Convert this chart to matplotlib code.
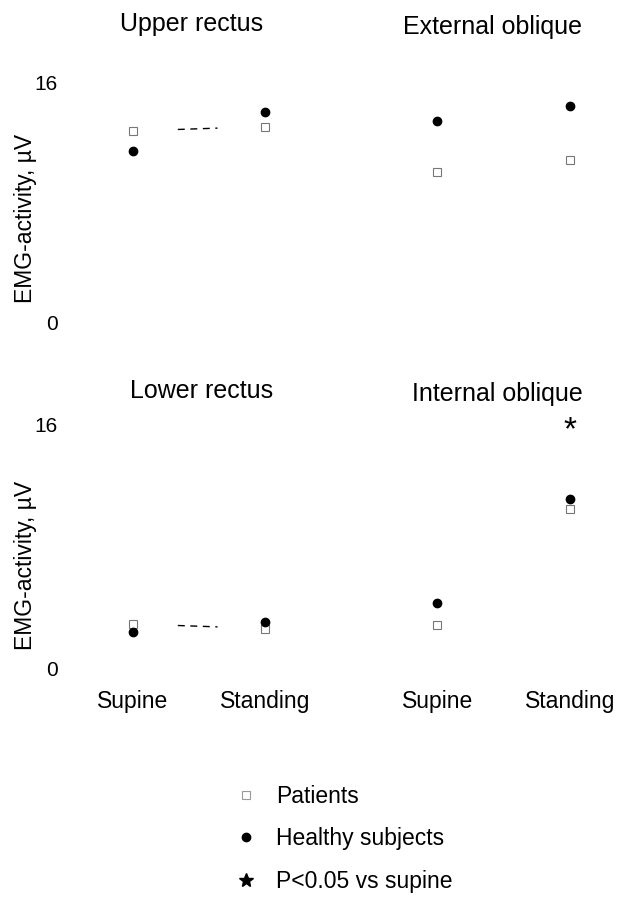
import numpy as np
import matplotlib.pyplot as plt
from matplotlib.lines import Line2D

plt.rcParams["font.family"] = ["Liberation Sans", "DejaVu Sans"]

# EMG activity (µV), supine vs standing
positions = ["Supine", "Standing"]
muscles = ["Upper rectus", "External oblique", "Lower rectus", "Internal oblique"]

patients = {
    "Upper rectus": [12.8, 13.1],
    "External oblique": [10.1, 10.9],
    "Lower rectus": [2.9, 2.6],
    "Internal oblique": [2.8, 10.5],
}
healthy = {
    "Upper rectus": [11.5, 14.1],
    "External oblique": [13.5, 14.5],
    "Lower rectus": [2.4, 3.0],
    "Internal oblique": [4.3, 11.1],
}
# significance marker (P<0.05 vs supine)
signif = {"Internal oblique": (1, 15.6)}
# panels where a piece of the patient connecting line remains
dashed_link = ["Upper rectus", "Lower rectus"]

fig = plt.figure(figsize=(6.28, 9.02), dpi=100)
H = 902.0
W = 628.0

# axes boxes in pixels: left, top(of 16), right, bottom(of 0)
boxes = {
    "Upper rectus": (80, 83, 318, 323),
    "External oblique": (384, 83, 623, 323),
    "Lower rectus": (80, 425, 318, 668),
    "Internal oblique": (384, 425, 623, 668),
}
titles_xy = {
    "Upper rectus": (192, 24),
    "External oblique": (492, 27),
    "Lower rectus": (202, 391),
    "Internal oblique": (497, 394),
}

x = np.arange(len(positions))
for m in muscles:
    l, t, r, b = boxes[m]
    ax = fig.add_axes([l / W, (H - b) / H, (r - l) / W, (b - t) / H])
    ax.set_xlim(-0.4, 1.4)
    ax.set_ylim(0, 16)
    for s in ax.spines.values():
        s.set_visible(False)
    ax.tick_params(length=0, labelsize=15)
    ax.set_yticks([0, 16])
    if l < 200:
        ax.set_yticklabels(["0", "16"])
        ax.tick_params(axis="y", pad=16)
    else:
        ax.set_yticklabels([])
    if b > 600:
        ax.set_xticks(x)
        ax.set_xticklabels(positions, fontsize=16.5)
        ax.tick_params(axis="x", pad=16)
    else:
        ax.set_xticks([])

    ax.plot(x, patients[m], linestyle="none", marker="s", markersize=6,
            mfc="white", mec="#777777", mew=0.8, clip_on=False)
    ax.plot(x, healthy[m], linestyle="none", marker="o", markersize=6,
            color="black", clip_on=False)

    if m in dashed_link:
        xs = np.array([0.34, 0.64])
        ys = np.interp(xs, x, patients[m])
        ax.plot(xs, ys, color="black", linestyle=(0, (5, 4)), linewidth=1)

    if m in signif:
        sx, sy = signif[m]
        ax.text(sx, sy, "*", ha="center", va="center", fontsize=24)

    tx, ty = titles_xy[m]
    fig.text(tx / W, 1 - ty / H, m, ha="center", va="center", fontsize=18)

fig.text(26 / W, 1 - 218 / H, "EMG-activity, µV", rotation=90,
         ha="center", va="center", fontsize=16.5)
fig.text(26 / W, 1 - 565 / H, "EMG-activity, µV", rotation=90,
         ha="center", va="center", fontsize=16.5)

handles = [
    Line2D([], [], linestyle="none", marker="s", markersize=6,
           mfc="white", mec="#999999", mew=0.8),
    Line2D([], [], linestyle="none", marker="o", markersize=6, color="black"),
    Line2D([], [], linestyle="none", marker="*", markersize=10, color="black"),
]
labels = ["Patients", "Healthy subjects", "P<0.05 vs supine"]
fig.legend(handles, labels, loc="upper left",
           bbox_to_anchor=(214 / W, 1 - 764 / H), frameon=False,
           fontsize=16.5, labelspacing=0.85, handletextpad=0.8,
           handlelength=1.0)

fig.savefig("out.png", dpi=100)
